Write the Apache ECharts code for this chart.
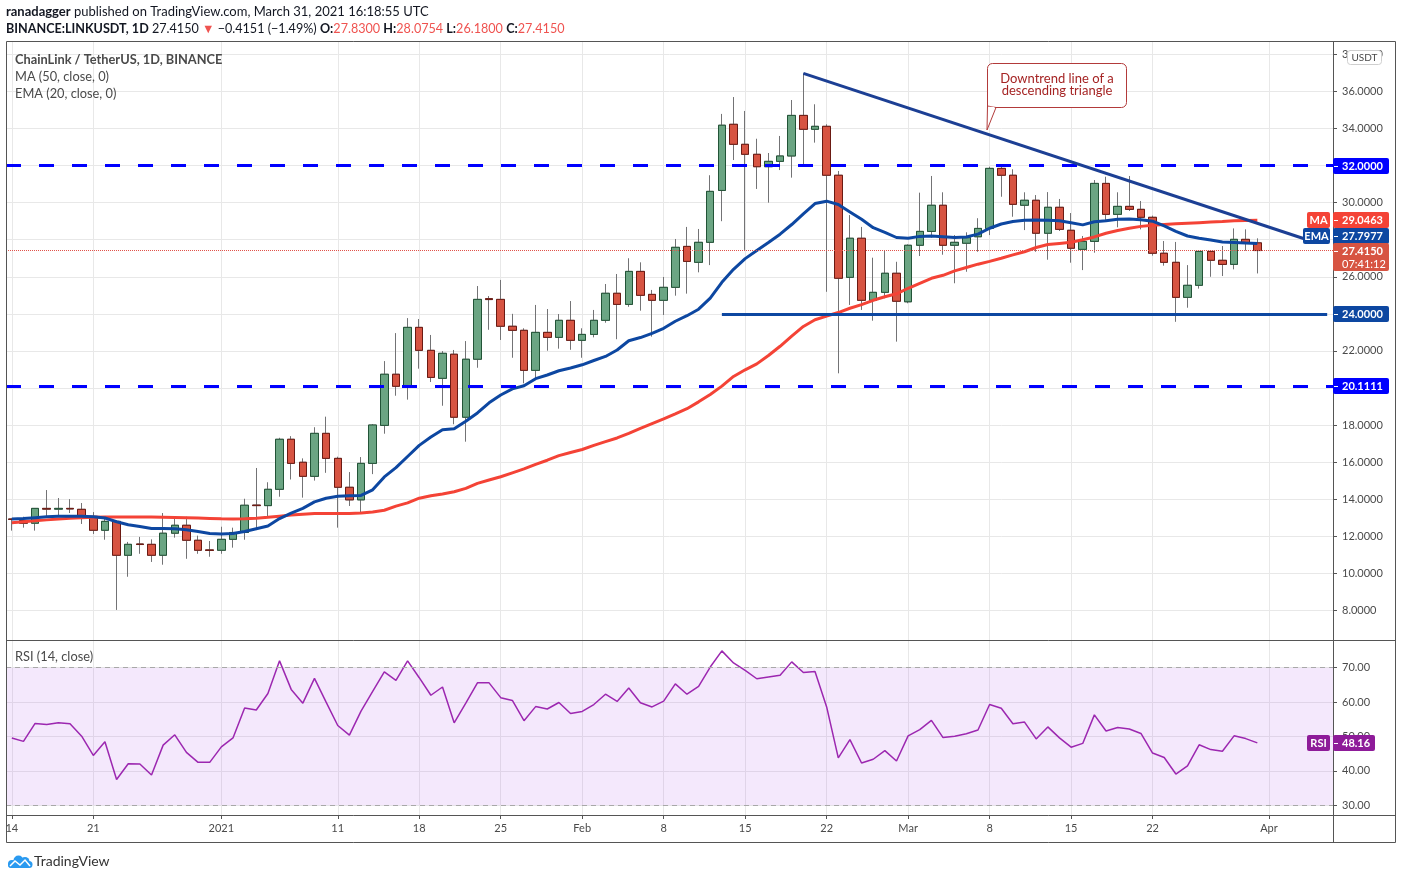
<!DOCTYPE html>
<html>
<head>
<meta charset="utf-8">
<title>ChainLink / TetherUS, 1D</title>
<script src="https://cdn.jsdelivr.net/npm/echarts@6/dist/echarts.min.js"></script>
<style>
    html, body { margin: 0; padding: 0; background: #ffffff; }
    #chart { width: 1402px; height: 880px; }
</style>
</head>
<body>
<div id="chart"></div>
<script>
    /**
     * data
     */
    var firstDay = '2020-12-14';
    var dayCount = 114; // Dec 14 .. Apr 6, the last days are empty space

    var tickDays = ['2020-12-14', '2020-12-21', '2021-01-01', '2021-01-11', '2021-01-18', '2021-01-25',
        '2021-02-01', '2021-02-08', '2021-02-15', '2021-02-22', '2021-03-01', '2021-03-08',
        '2021-03-15', '2021-03-22', '2021-04-01'];
    var tickTexts = ['14', '21', '2021', '11', '18', '25', 'Feb', '8', '15', '22', 'Mar', '8', '15', '22', 'Apr'];

    var priceTicks = [8, 10, 12, 14, 16, 18, 20, 22, 24, 26, 28, 30, 32, 34, 36, 38];
    var rsiTicks = [30, 40, 50, 60, 70];

    var opens = [12.93, 12.84, 12.70, 13.50, 13.46, 13.50, 13.45, 13.07, 12.32, 12.80,
        10.97, 11.58, 11.56, 10.97, 12.16, 12.59, 11.78, 11.26, 11.24, 11.83,
        12.20, 13.68, 13.65, 14.53, 17.23, 15.99, 15.23, 17.55, 16.20, 14.64,
        13.96, 15.93, 17.98, 20.74, 20.09, 23.27, 22.03, 20.52, 21.82, 18.42,
        21.55, 24.82, 24.78, 23.33, 23.11, 20.95, 23.00, 22.73, 23.65, 22.57,
        22.89, 23.65, 25.11, 24.51, 26.29, 25.05, 24.73, 25.43, 27.64, 26.78,
        27.86, 30.66, 34.23, 33.15, 32.61, 31.94, 32.23, 32.52, 34.71, 33.96,
        34.12, 31.48, 25.97, 28.08, 24.73, 25.16, 26.19, 24.65, 27.70, 28.45,
        29.86, 27.70, 27.81, 28.16, 28.61, 31.85, 31.48, 29.86, 30.13, 28.35,
        29.75, 28.51, 27.48, 27.91, 31.04, 29.37, 29.80, 29.64, 29.21, 27.27,
        26.78, 24.89, 25.54, 27.37, 26.89, 26.67, 28.02, 27.83];
    var highs = [12.95, 13.05, 13.52, 14.49, 14.06, 14.00, 13.79, 13.30, 12.96, 12.82,
        11.69, 11.96, 11.83, 13.25, 12.96, 13.05, 12.03, 11.74, 12.51, 12.46,
        14.02, 15.68, 14.91, 17.31, 17.40, 16.20, 17.88, 18.45, 16.29, 15.46,
        16.27, 18.05, 21.45, 22.96, 23.77, 23.72, 22.86, 21.99, 22.05, 22.53,
        25.50, 24.96, 25.83, 24.00, 23.22, 24.48, 24.26, 23.99, 24.69, 23.22,
        24.21, 25.61, 26.15, 27.00, 26.78, 25.29, 25.99, 28.04, 28.69, 28.58,
        31.48, 34.79, 35.70, 34.95, 33.45, 32.68, 33.60, 35.54, 36.98, 35.31,
        34.23, 31.71, 29.33, 28.69, 27.03, 27.44, 26.81, 27.75, 30.54, 31.44,
        30.56, 28.25, 28.40, 29.16, 31.94, 32.03, 31.80, 30.56, 30.41, 30.57,
        30.20, 29.44, 28.20, 31.22, 31.40, 30.56, 31.44, 30.09, 29.30, 27.93,
        27.88, 26.63, 27.44, 27.44, 27.66, 28.61, 28.56, 28.0754];
    var lows = [12.30, 12.46, 12.30, 13.05, 13.14, 13.25, 12.66, 12.12, 11.81, 8.02,
        9.81, 11.05, 10.61, 10.46, 11.92, 10.78, 11.05, 10.89, 11.05, 11.38,
        11.81, 12.33, 13.05, 14.13, 15.06, 14.08, 15.00, 15.42, 12.46, 13.63,
        13.30, 15.35, 17.53, 19.58, 19.37, 21.04, 20.32, 19.04, 18.04, 17.10,
        21.09, 23.14, 22.59, 21.63, 20.25, 20.47, 22.01, 22.12, 22.06, 21.63,
        22.73, 23.52, 22.63, 24.38, 24.17, 22.77, 23.94, 24.98, 25.09, 26.24,
        26.63, 29.00, 32.30, 27.45, 30.74, 30.00, 31.76, 31.35, 31.99, 33.24,
        25.19, 20.79, 24.48, 24.21, 23.63, 24.84, 22.50, 24.57, 27.12, 28.11,
        27.19, 25.65, 26.27, 27.35, 28.25, 30.32, 29.24, 28.52, 27.35, 26.92,
        28.47, 26.76, 26.36, 27.30, 28.97, 28.67, 29.55, 28.56, 27.14, 26.60,
        23.57, 24.33, 25.36, 26.00, 26.04, 26.40, 27.41, 26.18];
    var closes = [12.90, 12.70, 13.50, 13.46, 13.50, 13.47, 13.05, 12.32, 12.80, 10.97,
        11.56, 11.55, 10.97, 12.16, 12.59, 11.78, 11.24, 11.23, 11.83, 12.20,
        13.67, 13.65, 14.53, 17.23, 15.93, 15.23, 17.55, 16.20, 14.64, 13.96,
        15.93, 18.00, 20.74, 20.09, 23.27, 22.03, 20.57, 21.87, 18.42, 21.55,
        24.78, 24.77, 23.33, 23.11, 20.95, 23.00, 22.73, 23.65, 22.57, 22.89,
        23.65, 25.11, 24.51, 26.29, 25.00, 24.73, 25.43, 27.59, 26.83, 27.86,
        30.61, 34.18, 33.15, 32.61, 31.94, 32.23, 32.52, 34.71, 33.96, 34.12,
        31.48, 25.92, 28.08, 24.73, 25.16, 26.19, 24.68, 27.70, 28.45, 29.86,
        27.70, 27.86, 28.11, 28.61, 31.85, 31.48, 29.91, 30.13, 28.35, 29.75,
        28.56, 27.54, 27.91, 31.04, 29.37, 29.80, 29.64, 29.21, 27.27, 26.78,
        24.89, 25.54, 27.37, 26.89, 26.67, 28.02, 27.81, 27.415];

    var ma50 = [12.73, 12.78, 12.83, 12.88, 12.93, 12.97, 13.00, 13.02, 13.03, 13.03,
        13.03, 13.03, 13.03, 13.02, 13.01, 13.00, 12.98, 12.96, 12.94, 12.93,
        12.94, 12.97, 13.02, 13.08, 13.14, 13.18, 13.22, 13.23, 13.23, 13.23,
        13.25, 13.30, 13.40, 13.62, 13.80, 14.05, 14.18, 14.28, 14.40, 14.58,
        14.85, 15.03, 15.21, 15.42, 15.63, 15.88, 16.10, 16.35, 16.52, 16.68,
        16.90, 17.10, 17.30, 17.55, 17.82, 18.08, 18.33, 18.60, 18.88, 19.25,
        19.65, 20.10, 20.62, 20.98, 21.30, 21.75, 22.25, 22.80, 23.32, 23.68,
        23.88, 24.07, 24.30, 24.50, 24.73, 24.92, 25.08, 25.38, 25.65, 25.92,
        26.08, 26.32, 26.50, 26.68, 26.83, 27.00, 27.18, 27.35, 27.58, 27.74,
        27.80, 27.86, 28.00, 28.15, 28.35, 28.50, 28.62, 28.72, 28.78, 28.82,
        28.86, 28.89, 28.92, 28.95, 28.98, 29.02, 29.04, 29.0463];
    var ema20 = [12.93, 12.95, 13.00, 13.05, 13.07, 13.08, 13.08, 13.05, 12.98, 12.78,
        12.62, 12.52, 12.42, 12.42, 12.40, 12.35, 12.25, 12.15, 12.12, 12.14,
        12.25, 12.40, 12.55, 12.95, 13.25, 13.50, 13.85, 14.05, 14.15, 14.18,
        14.20, 14.50, 15.20, 15.70, 16.30, 16.90, 17.35, 17.75, 17.80, 18.20,
        18.65, 19.20, 19.62, 19.95, 20.12, 20.50, 20.70, 20.93, 21.08, 21.25,
        21.48, 21.70, 22.05, 22.55, 22.72, 22.95, 23.22, 23.60, 23.90, 24.25,
        24.85, 25.70, 26.40, 26.98, 27.42, 27.85, 28.30, 28.82, 29.40, 29.95,
        30.08, 29.90, 29.50, 29.10, 28.65, 28.40, 28.12, 28.08, 28.18, 28.20,
        28.16, 28.12, 28.15, 28.30, 28.62, 28.85, 28.98, 29.05, 29.06, 29.05,
        29.02, 28.92, 28.80, 28.97, 29.02, 29.10, 29.12, 29.08, 29.00, 28.75,
        28.45, 28.20, 28.08, 27.98, 27.88, 27.85, 27.82, 27.7977];
    var rsi14 = [49.6, 48.6, 53.8, 53.5, 54.0, 53.7, 50.1, 44.5, 48.5, 37.5,
        42.1, 42.0, 38.8, 47.5, 50.5, 45.4, 42.5, 42.5, 47.0, 49.6,
        58.3, 57.7, 62.5, 72.0, 63.7, 59.7, 66.9, 60.0, 53.2, 50.4,
        57.4, 63.1, 68.8, 66.3, 72.0, 67.1, 62.0, 64.4, 54.0, 59.7,
        65.6, 65.6, 61.3, 60.5, 54.6, 58.7, 58.0, 59.9, 56.7, 57.3,
        59.3, 62.3, 60.2, 64.1, 59.8, 58.6, 60.3, 65.3, 62.3, 64.6,
        70.2, 74.9, 71.4, 69.2, 66.8, 67.3, 67.8, 71.7, 68.6, 68.9,
        58.6, 43.8, 49.1, 42.3, 43.4, 45.9, 42.9, 50.2, 52.0, 54.7,
        49.7, 50.1, 50.8, 51.9, 59.3, 58.2, 53.7, 54.2, 49.3, 52.8,
        49.6, 46.9, 48.0, 56.3, 51.6, 52.6, 52.2, 50.9, 45.2, 43.9,
        39.1, 41.5, 47.6, 46.2, 45.7, 50.2, 49.4, 48.16];

    // drawn levels: [price] and [day, price] pairs
    var dashedLevels = [32, 20.1111];
    var supportLine = [['2021-02-13', 24], ['2021-04-06', 24]];
    var trendLine = [['2021-02-20', 36.98], ['2021-04-05', 27.85]];
    var lastPrice = 27.415;
    var lastRsi = 48.16;


    /**
     * build categories and candle data
     */
    var days = [];
    var d0 = new Date(firstDay + 'T00:00:00Z');
    for (var i = 0; i < dayCount; i++) {
        days.push(new Date(d0.getTime() + i * 86400000).toISOString().slice(0, 10));
    }

    var tickTextByDay = {};
    for (var t = 0; t < tickDays.length; t++) {
        tickTextByDay[tickDays[t]] = tickTexts[t];
    }
    function isTickDay(index, value) {
        return tickTextByDay[value] !== undefined;
    }

    var wickData = [];
    var bodyData = [];
    for (var k = 0; k < opens.length; k++) {
        wickData.push([opens[k], closes[k], lows[k], highs[k]]);
        bodyData.push([opens[k], closes[k], Math.min(opens[k], closes[k]), Math.max(opens[k], closes[k])]);
    }

    var FONT = 'Lato, "Open Sans", sans-serif';
    var GRID_LINE = '#e8e8e8';
    var AXIS_TEXT = '#4a4a4a';

    var chart = echarts.init(document.getElementById('chart'));

    var levelLines = [];
    for (var m = 0; m < dashedLevels.length; m++) {
        levelLines.push({ yAxis: dashedLevels[m], lineStyle: { color: '#0000ff', width: 3, type: [15, 18] } });
    }
    levelLines.push([
        { coord: supportLine[0], lineStyle: { color: '#0d47a1', width: 3, type: 'solid' } },
        { coord: supportLine[1] }
    ]);
    levelLines.push([
        { coord: trendLine[0], lineStyle: { color: '#1c3f94', width: 3, type: 'solid' } },
        { coord: trendLine[1] }
    ]);
    levelLines.push({ yAxis: lastPrice, lineStyle: { color: '#e0524a', width: 1, type: 'dotted' } });

    var option = {
        animation: false,
        backgroundColor: '#ffffff',
        textStyle: { fontFamily: FONT },
        grid: [
            { left: 6, right: 69, top: 42, height: 598 },
            { left: 6, right: 69, top: 641, height: 174 }
        ],
        xAxis: [
            {
                type: 'category', gridIndex: 0, data: days, boundaryGap: true,
                axisLine: { show: false }, axisTick: { show: false }, axisLabel: { show: false },
                splitLine: { show: true, interval: isTickDay, alignWithLabel: true, lineStyle: { color: GRID_LINE } }
            },
            {
                type: 'category', gridIndex: 1, data: days, boundaryGap: true,
                axisLine: { show: false },
                axisTick: { show: true, interval: isTickDay, alignWithLabel: true, length: 4, lineStyle: { color: '#555555' } },
                axisLabel: {
                    interval: isTickDay, margin: 8, color: AXIS_TEXT, fontSize: 11, fontFamily: FONT,
                    formatter: function (value) { return tickTextByDay[value] || ''; }
                },
                splitLine: { show: true, interval: isTickDay, alignWithLabel: true, lineStyle: { color: GRID_LINE } }
            }
        ],
        yAxis: [
            {
                type: 'value', gridIndex: 0, position: 'right', min: 6.397, max: 38.671,
                axisLine: { show: false },
                axisTick: { show: true, customValues: priceTicks, length: 4, lineStyle: { color: '#555555' } },
                axisLabel: {
                    customValues: priceTicks, margin: 9, color: AXIS_TEXT, fontSize: 11, fontFamily: FONT,
                    formatter: function (v) { return v.toFixed(4); }
                },
                splitLine: { show: true, lineStyle: { color: GRID_LINE } }
            },
            {
                type: 'value', gridIndex: 1, position: 'right', min: 27.19, max: 77.77,
                axisLine: { show: false },
                axisTick: { show: true, customValues: rsiTicks, length: 4, lineStyle: { color: '#555555' } },
                axisLabel: {
                    customValues: rsiTicks, margin: 9, color: AXIS_TEXT, fontSize: 11, fontFamily: FONT,
                    formatter: function (v) { return v.toFixed(2); }
                },
                splitLine: { show: true, lineStyle: { color: GRID_LINE } }
            }
        ],
        series: [
            {
                name: 'wicks', type: 'candlestick', xAxisIndex: 0, yAxisIndex: 0,
                data: wickData, barWidth: 8, z: 2, silent: true,
                itemStyle: { color: '#737375', color0: '#737375', borderColor: '#737375', borderColor0: '#737375', borderWidth: 1 }
            },
            {
                name: 'LINKUSDT', type: 'candlestick', xAxisIndex: 0, yAxisIndex: 0,
                data: bodyData, barWidth: 8, z: 3, silent: true,
                itemStyle: { color: '#6ba583', color0: '#d75442', borderColor: '#225437', borderColor0: '#6b1a13', borderWidth: 1 },
                markLine: { silent: true, symbol: ['none', 'none'], label: { show: false }, data: levelLines }
            },
            {
                name: 'MA', type: 'line', xAxisIndex: 0, yAxisIndex: 0, data: ma50, z: 4,
                showSymbol: false, silent: true, lineStyle: { color: '#f44336', width: 3 }
            },
            {
                name: 'EMA', type: 'line', xAxisIndex: 0, yAxisIndex: 0, data: ema20, z: 4,
                showSymbol: false, silent: true, lineStyle: { color: '#0d47a1', width: 3 }
            },
            {
                name: 'RSI', type: 'line', xAxisIndex: 1, yAxisIndex: 1, data: rsi14, z: 4, clip: false,
                showSymbol: false, silent: true, lineStyle: { color: '#9c27b0', width: 1.5 },
                markArea: {
                    silent: true,
                    itemStyle: { color: 'rgba(170, 80, 230, 0.13)' },
                    data: [[{ yAxis: 30 }, { yAxis: 70 }]]
                },
                markLine: {
                    silent: true, symbol: ['none', 'none'], label: { show: false },
                    lineStyle: { color: '#a8a8a8', width: 1, type: [5, 4] },
                    data: [{ yAxis: 70 }, { yAxis: 30 }]
                }
            }
        ]
    };
    chart.setOption(option);


    /**
     * frame, texts and price tags
     */
    function priceY(v) {
        return chart.convertToPixel({ yAxisIndex: 0 }, v);
    }
    function rsiY(v) {
        return chart.convertToPixel({ yAxisIndex: 1 }, v);
    }

    function valueTag(yc, color, text, width) {
        return [
            { type: 'rect', z: 100, shape: { x: 1333, y: Math.round(yc) - 8, width: width || 56, height: 16, r: 2 }, style: { fill: color } },
            { type: 'line', z: 101, shape: { x1: 1334, y1: Math.round(yc) + 0.5, x2: 1338, y2: Math.round(yc) + 0.5 }, style: { stroke: '#ffffff', lineWidth: 1 } },
            { type: 'text', z: 101, x: 1342, y: Math.round(yc), style: { text: text, fill: '#ffffff', fontFamily: FONT, fontSize: 11, fontWeight: 'bold', verticalAlign: 'middle' } }
        ];
    }
    function nameTag(yc, color, text, width) {
        return [
            { type: 'rect', z: 100, shape: { x: 1330 - width, y: Math.round(yc) - 8, width: width, height: 16, r: 2 }, style: { fill: color } },
            { type: 'text', z: 101, x: 1330 - width / 2, y: Math.round(yc), style: { text: text, fill: '#ffffff', fontFamily: FONT, fontSize: 11, fontWeight: 'bold', align: 'center', verticalAlign: 'middle' } }
        ];
    }

    var g = [];
    // frame
    g.push({ type: 'rect', z: 90, shape: { x: 6.5, y: 41.5, width: 1389, height: 801 }, style: { fill: 'none', stroke: '#555555', lineWidth: 1 } });
    g.push({ type: 'line', z: 90, shape: { x1: 6.5, y1: 640.5, x2: 1395.5, y2: 640.5 }, style: { stroke: '#555555', lineWidth: 1 } });
    g.push({ type: 'line', z: 90, shape: { x1: 6.5, y1: 815.5, x2: 1395.5, y2: 815.5 }, style: { stroke: '#555555', lineWidth: 1 } });
    g.push({ type: 'line', z: 90, shape: { x1: 1333.5, y1: 41.5, x2: 1333.5, y2: 842.5 }, style: { stroke: '#555555', lineWidth: 1 } });

    // header
    g.push({
        type: 'text', z: 100, x: 6, y: 12,
        style: {
            text: '{b|ranadagger} published on TradingView.com, March 31, 2021 16:18:55 UTC',
            fill: '#131722', fontFamily: FONT, fontSize: 13, verticalAlign: 'middle',
            rich: { b: { fontWeight: 'bold', fontFamily: FONT, fontSize: 13, fill: '#131722' } }
        }
    });
    g.push({
        type: 'text', z: 100, x: 6, y: 29,
        style: {
            text: '{b|BINANCE:LINKUSDT, 1D} 27.4150 {r|\u25BC} \u22120.4151 (\u22121.49%) {b|O:}{r|27.8300} {b|H:}{r|28.0754} {b|L:}{r|26.1800} {b|C:}{r|27.4150}',
            fill: '#131722', fontFamily: FONT, fontSize: 12.6, verticalAlign: 'middle',
            rich: {
                b: { fontWeight: 'bold', fontFamily: FONT, fontSize: 12.6, fill: '#131722' },
                r: { fontFamily: FONT, fontSize: 12.6, fill: '#ef5350' }
            }
        }
    });

    // legend inside panes
    g.push({ type: 'text', z: 100, x: 15, y: 60, style: { text: 'ChainLink / TetherUS, 1D, BINANCE', fill: '#4a4a4a', fontFamily: FONT, fontSize: 12.8, fontWeight: 'bold', verticalAlign: 'middle' } });
    g.push({ type: 'text', z: 100, x: 15, y: 77, style: { text: 'MA (50, close, 0)', fill: '#4a4a4a', fontFamily: FONT, fontSize: 12.8, verticalAlign: 'middle' } });
    g.push({ type: 'text', z: 100, x: 15, y: 94, style: { text: 'EMA (20, close, 0)', fill: '#4a4a4a', fontFamily: FONT, fontSize: 12.8, verticalAlign: 'middle' } });
    g.push({ type: 'text', z: 100, x: 15, y: 657, style: { text: 'RSI (14, close)', fill: '#4a4a4a', fontFamily: FONT, fontSize: 12.8, verticalAlign: 'middle' } });

    // callout
    g.push({ type: 'rect', z: 100, shape: { x: 987.5, y: 63.5, width: 139, height: 44, r: [5, 5, 5, 0] }, style: { fill: '#ffffff', stroke: '#b23a3a', lineWidth: 1 } });
    g.push({ type: 'polygon', z: 100, shape: { points: [[987.5, 106], [987, 130], [996, 107.5]] }, style: { fill: '#ffffff', stroke: '#b23a3a', lineWidth: 1 } });
    g.push({ type: 'line', z: 101, shape: { x1: 988.5, y1: 107.5, x2: 994.5, y2: 107.5 }, style: { stroke: '#ffffff', lineWidth: 1.5 } });
    g.push({ type: 'text', z: 101, x: 1057, y: 79, style: { text: 'Downtrend line of a', fill: '#a52424', fontFamily: FONT, fontSize: 13, align: 'center', verticalAlign: 'middle' } });
    g.push({ type: 'text', z: 101, x: 1057, y: 91, style: { text: 'descending triangle', fill: '#a52424', fontFamily: FONT, fontSize: 13, align: 'center', verticalAlign: 'middle' } });

    // USDT badge
    g.push({ type: 'rect', z: 100, shape: { x: 1347.5, y: 50.5, width: 34, height: 14, r: 3 }, style: { fill: '#ffffff', stroke: '#cfcfcf', lineWidth: 1 } });
    g.push({ type: 'text', z: 101, x: 1364.5, y: 58, style: { text: 'USDT', fill: '#4a4a4a', fontFamily: FONT, fontSize: 10, align: 'center', verticalAlign: 'middle' } });

    // price tags on the right axis
    g = g.concat(valueTag(priceY(dashedLevels[0]), '#0000ff', dashedLevels[0].toFixed(4)));
    g = g.concat(valueTag(priceY(dashedLevels[1]), '#0000ff', dashedLevels[1].toFixed(4)));
    g = g.concat(valueTag(priceY(supportLine[0][1]), '#0d47a1', supportLine[0][1].toFixed(4)));

    var lastY = priceY(lastPrice);
    var priceTop = Math.round(lastY) - 8;
    var emaY = Math.min(priceY(ema20[ema20.length - 1]), priceTop - 7);
    var maY = Math.min(priceY(ma50[ma50.length - 1]), emaY - 16.5);
    g = g.concat(nameTag(maY, '#f44336', 'MA', 23));
    g = g.concat(valueTag(maY, '#f44336', ma50[ma50.length - 1].toFixed(4)));
    g = g.concat(nameTag(emaY, '#0d47a1', 'EMA', 27));
    g = g.concat(valueTag(emaY, '#0d47a1', ema20[ema20.length - 1].toFixed(4)));

    g.push({ type: 'rect', z: 100, shape: { x: 1333, y: priceTop, width: 56, height: 28, r: 2 }, style: { fill: '#d75442' } });
    g.push({ type: 'line', z: 101, shape: { x1: 1334, y1: Math.round(lastY) + 0.5, x2: 1338, y2: Math.round(lastY) + 0.5 }, style: { stroke: '#ffffff', lineWidth: 1 } });
    g.push({ type: 'text', z: 101, x: 1342, y: priceTop + 8, style: { text: lastPrice.toFixed(4), fill: '#ffffff', fontFamily: FONT, fontSize: 11, fontWeight: 'bold', verticalAlign: 'middle' } });
    g.push({ type: 'text', z: 101, x: 1342, y: priceTop + 21, style: { text: '07:41:12', fill: '#ffffff', fontFamily: FONT, fontSize: 11, verticalAlign: 'middle' } });

    // rsi tag
    var rY = rsiY(lastRsi);
    g = g.concat(nameTag(rY, '#8e1b99', 'RSI', 23));
    g = g.concat(valueTag(rY, '#8e1b99', lastRsi.toFixed(2), 42));

    // TradingView mark
    g.push({ type: 'rect', z: 100, shape: { x: 8, y: 862, width: 23, height: 6, r: 3 }, style: { fill: '#2a9af0' } });
    g.push({ type: 'circle', z: 100, shape: { cx: 12, cy: 864, r: 4 }, style: { fill: '#2a9af0' } });
    g.push({ type: 'circle', z: 100, shape: { cx: 18.5, cy: 860.5, r: 5 }, style: { fill: '#2a9af0' } });
    g.push({ type: 'circle', z: 100, shape: { cx: 25, cy: 861.5, r: 4.5 }, style: { fill: '#2a9af0' } });
    g.push({ type: 'circle', z: 100, shape: { cx: 29, cy: 864.5, r: 3.5 }, style: { fill: '#2a9af0' } });
    g.push({ type: 'polyline', z: 101, shape: { points: [[10, 866], [15, 861], [20, 865], [25, 860], [30, 866]] }, style: { stroke: '#ffffff', lineWidth: 1.5, fill: 'none' } });
    g.push({ type: 'text', z: 100, x: 34, y: 861, style: { text: 'TradingView', fill: '#333333', fontFamily: FONT, fontSize: 14, verticalAlign: 'middle' } });

    chart.setOption({ graphic: g });
</script>
</body>
</html>
